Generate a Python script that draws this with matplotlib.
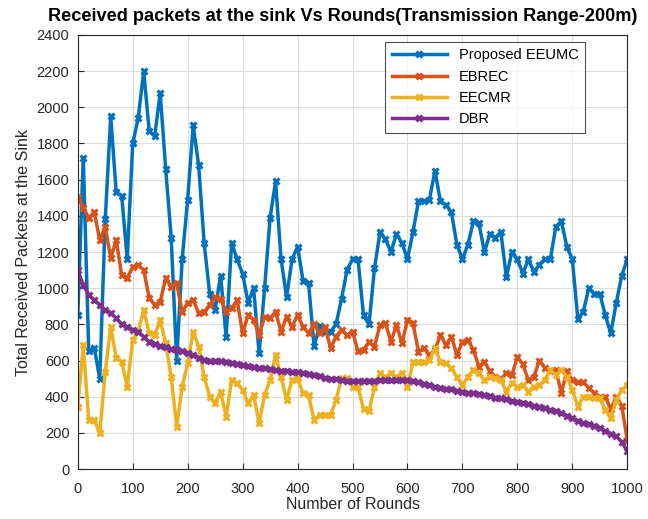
import numpy as np
import matplotlib
matplotlib.use("Agg")
import matplotlib.pyplot as plt

plt.rcParams['font.family'] = ['Liberation Sans', 'DejaVu Sans']

rounds = np.arange(0, 1001, 10)

eeumc = [850, 1720, 650, 670, 500, 1380, 1950, 1530, 1510, 1160,
         1800, 1940, 2200, 1870, 1840, 2080, 1660, 1280, 600, 1160,
         1490, 1900, 1680, 1250, 970, 880, 1070, 730, 1250, 1160,
         1080, 920, 1000, 640, 1000, 1390, 1590, 1160, 950, 1160,
         1230, 1040, 1030, 680, 790, 760, 760, 800, 940, 1100,
         1160, 1160, 850, 800, 1110, 1310, 1270, 1200, 1300, 1250,
         1160, 1310, 1480, 1480, 1490, 1650, 1480, 1460, 1420, 1240,
         1160, 1240, 1370, 1360, 1200, 1300, 1280, 1310, 1060, 1200,
         1160, 1080, 1160, 1090, 1130, 1160, 1160, 1340, 1370, 1230,
         1160, 830, 870, 1000, 970, 970, 850, 750, 920, 1070,
         1160]

ebrec = [1505, 1444, 1388, 1421, 1267, 1338, 1167, 1267, 1073, 1056,
         1117, 1128, 1100, 946, 907, 924, 1056, 1007, 1029, 868,
         918, 935, 863, 868, 907, 953, 940, 870, 888, 934,
         750, 851, 824, 741, 842, 833, 870, 759, 842, 787,
         851, 787, 750, 800, 750, 787, 667, 732, 769, 740,
         760, 650, 658, 704, 677, 797, 806, 704, 797, 695,
         824, 806, 649, 667, 630, 658, 741, 686, 732, 630,
         704, 714, 658, 566, 593, 540, 510, 500, 530, 520,
         620, 580, 490, 510, 600, 560, 540, 550, 420, 540,
         490, 480, 480, 450, 420, 400, 400, 330, 400, 350,
         160]

eecmr = [345, 686, 270, 270, 197, 538, 787, 612, 593, 456,
         714, 760, 880, 750, 741, 824, 695, 510, 234, 456,
         584, 759, 677, 510, 400, 363, 428, 290, 492, 474,
         437, 363, 409, 253, 409, 492, 630, 510, 382, 492,
         501, 418, 409, 271, 299, 299, 299, 382, 501, 501,
         455, 455, 330, 320, 455, 529, 510, 529, 510, 529,
         455, 590, 593, 593, 602, 667, 593, 584, 556, 510,
         464, 510, 547, 529, 492, 510, 501, 492, 428, 474,
         455, 464, 428, 455, 464, 492, 547, 520, 547, 510,
         437, 345, 400, 400, 391, 391, 326, 280, 382, 437,
         465]

dbr = [1100, 1017, 962, 935, 907, 879, 861, 833, 800, 785,
       769, 759, 732, 704, 690, 680, 672, 665, 660, 650,
       640, 630, 615, 605, 600, 598, 595, 590, 584, 580,
       577, 570, 566, 560, 556, 553, 548, 543, 540, 538,
       535, 530, 525, 520, 513, 505, 500, 495, 490, 488,
       487, 488, 488, 489, 489, 490, 490, 490, 490, 490,
       490, 488, 480, 470, 462, 455, 450, 445, 440, 433,
       427, 422, 418, 415, 410, 405, 395, 390, 385, 375,
       370, 365, 358, 350, 345, 335, 325, 320, 310, 295,
       280, 265, 255, 250, 240, 225, 210, 195, 180, 150,
       100]

names = ['Proposed EEUMC', 'EBREC', 'EECMR', 'DBR']
colors = ['#0072BD', '#D95319', '#EDB120', '#7E2F8E']

fig = plt.figure(figsize=(6.48, 5.19), dpi=100)
ax = fig.add_axes([0.120, 0.0963, 0.848, 0.8363])

for vals, name, c in zip([eeumc, ebrec, eecmr, dbr], names, colors):
    ax.plot(rounds, vals, color=c, lw=2.5, marker='x', ms=5, mew=2.2, label=name)

ax.set_xlim(0, 1000)
ax.set_ylim(0, 2400)
ax.set_xticks(np.arange(0, 1001, 100))
ax.set_yticks(np.arange(0, 2401, 200))
ax.grid(True, color='#dcdcdc', lw=0.8)
ax.set_axisbelow(True)
ax.tick_params(direction='in', labelsize=10.5, colors='#262626', length=4, top=False, right=False)
ax.tick_params(axis='x', pad=9)
ax.tick_params(axis='y', pad=6)
for s in ax.spines.values():
    s.set_color('#262626')
    s.set_linewidth(0.8)

ax.set_xlabel('Number of Rounds', fontsize=11.5, color='#262626', labelpad=1)
ax.set_ylabel('Total Received Packets at the Sink', fontsize=11.5, color='#262626', labelpad=4)
ax.set_title('Received packets at the sink Vs Rounds(Transmission Range-200m)',
             fontsize=13.1, fontweight='bold', pad=10, x=0.483)

leg = ax.legend(loc='upper right', bbox_to_anchor=(0.923, 0.984), fontsize=10.5,
                frameon=True, fancybox=False, edgecolor='#262626', borderaxespad=0,
                handlelength=3.8, borderpad=0.45, labelspacing=0.5)
leg.get_frame().set_linewidth(0.8)

fig.savefig('out.png', dpi=100)
